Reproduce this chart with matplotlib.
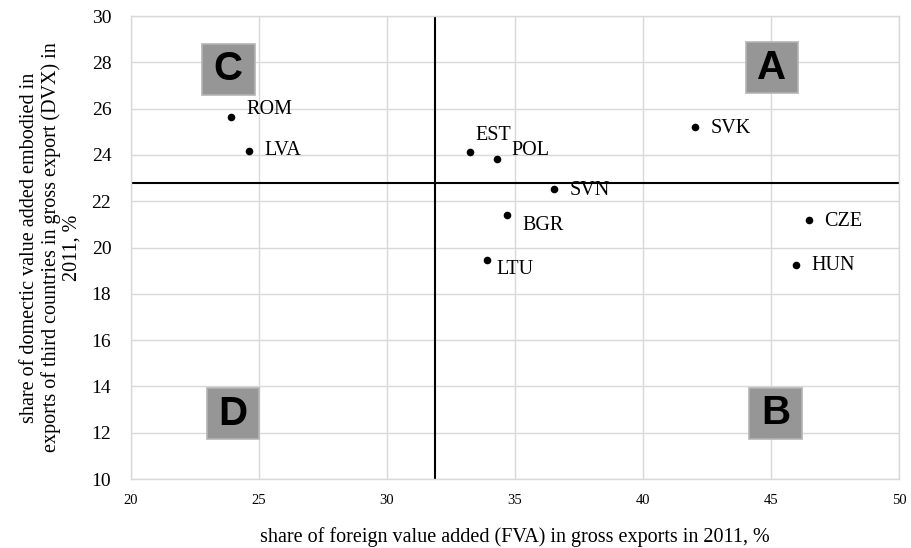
import matplotlib.pyplot as plt
from matplotlib.patches import Rectangle

# === DATA ===
countries = ['ROM', 'LVA', 'EST', 'POL', 'SVN', 'BGR', 'LTU', 'SVK', 'CZE', 'HUN']
fva = [23.91, 24.63, 33.24, 34.31, 36.52, 34.70, 33.90, 42.03, 46.46, 45.96]
dvx = [25.64, 24.19, 24.13, 23.84, 22.51, 21.39, 19.46, 25.21, 21.19, 19.23]
# label offsets in points (dx, dy)
label_offsets = [(11, 5), (11, 0), (4, 12), (10, 6), (11, -1), (11, -7), (7, -7),
                 (11, -1), (11, -1), (11, 0)]

fva_split = 31.88
dvx_split = 22.77

quad_letters = ['A', 'B', 'C', 'D']
quad_x = [45.03, 45.17, 23.81, 23.99]
quad_y = [27.77, 12.84, 27.70, 12.82]

SERIF = 'Liberation Serif'
SANS = 'Liberation Sans'
GRID = '#d9d9d9'

fig = plt.figure(figsize=(9.11, 5.48), dpi=100)
ax = fig.add_axes([0.1435, 0.1259, 0.8437, 0.8449])

ax.set_xlim(20, 50)
ax.set_ylim(10, 30)
ax.set_xticks(range(20, 51, 5))
ax.set_yticks(range(10, 31, 2))
ax.grid(True, color=GRID, linewidth=1.0)
ax.set_axisbelow(True)
for s in ax.spines.values():
    s.set_color(GRID)
    s.set_linewidth(1.0)
ax.tick_params(length=0)
ax.tick_params(axis='x', labelsize=10.5, pad=11)
ax.tick_params(axis='y', labelsize=14, pad=14)
for lab in ax.get_xticklabels() + ax.get_yticklabels():
    lab.set_family(SERIF)

# quadrant split lines
ax.axvline(fva_split, color='black', linewidth=1.5, zorder=2)
ax.axhline(dvx_split, color='black', linewidth=1.5, zorder=2)

# points + labels
ax.scatter(fva, dvx, s=20, color='black', zorder=3)
for name, x, y, (dx, dy) in zip(countries, fva, dvx, label_offsets):
    ax.annotate(name, (x, y), xytext=(dx, dy), textcoords='offset points',
                ha='left', va='center', fontsize=14.5, family=SERIF)

# quadrant boxes
bw, bh = 2.05, 2.2
for letter, x, y in zip(quad_letters, quad_x, quad_y):
    ax.add_patch(Rectangle((x - bw / 2, y - bh / 2), bw, bh,
                           facecolor='#969696', edgecolor='#b4b4b4',
                           linewidth=1.2, zorder=4))
    ax.text(x, y, letter, ha='center', va='center', fontsize=29,
            fontweight='bold', family=SANS, zorder=5)

ax.set_xlabel('share of foreign value added (FVA) in gross exports in 2011, %',
              fontsize=14.5, family=SERIF, labelpad=14)
ax.set_ylabel('share of domectic value added embodied in\n'
              'exports of third countries in gross export (DVX) in\n2011, %',
              fontsize=14.5, family=SERIF, labelpad=7, linespacing=1.12)

plt.savefig('out.png', dpi=100, facecolor='white')
plt.close()
